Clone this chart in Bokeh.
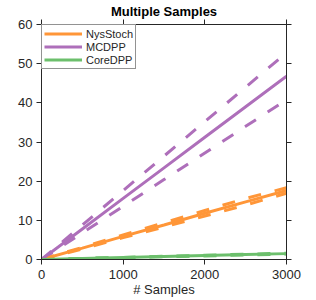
from bokeh.plotting import figure
from bokeh.models import Range1d, FixedTicker, Legend, LegendItem, LinearAxis, CustomJSTickFormatter
from bokeh.embed import file_html
from bokeh.resources import INLINE

samples = [0, 500, 1000, 1500, 2000, 2500, 3000]
nys_mean = [0, 2.9, 5.9, 8.8, 11.8, 14.7, 17.6]
nys_hi = [0, 3.1, 6.3, 9.4, 12.5, 15.6, 18.3]
nys_lo = [0, 2.7, 5.6, 8.3, 11.1, 13.9, 16.9]
mc_mean = [0, 7.8, 15.6, 23.4, 31.2, 39.0, 46.8]
mc_hi = [0, 8.8, 17.6, 26.4, 35.2, 44.0, 52.8]
mc_lo = [0, 6.8, 13.6, 20.4, 27.2, 34.0, 40.8]
core_mean = [0, 0.25, 0.5, 0.75, 1.0, 1.25, 1.5]
core_hi = [0, 0.27, 0.54, 0.81, 1.08, 1.35, 1.62]
core_lo = [0, 0.23, 0.46, 0.69, 0.92, 1.15, 1.38]
x_ticks = [0, 1000, 2000, 3000]
y_ticks = [0, 10, 20, 30, 40, 50, 60]

ORANGE = "#FF9638"
PURPLE = "#AE6FBA"
GREEN = "#6CBF6C"
FONT = "Liberation Sans"
INK = "#262626"

p = figure(width=316, height=300, output_backend="svg", toolbar_location=None,
           x_range=Range1d(0, 3000), y_range=Range1d(0, 60),
           min_border_left=41, min_border_right=30, min_border_top=0, min_border_bottom=41,
           title="Multiple Samples")
p.title.text_font = FONT
p.title.text_font_size = "13px"
p.title.text_font_style = "bold"
p.title.text_color = "black"
p.title.align = "center"
p.title.offset = 0
p.title.standoff = 2
p.grid.visible = False
p.outline_line_color = INK
p.outline_line_width = 1
p.background_fill_color = "white"
p.border_fill_color = "white"

for ax in p.xaxis + p.yaxis:
    ax.major_label_text_font = FONT
    ax.major_label_text_font_size = "13px"
    ax.major_label_text_color = INK
    ax.axis_label_text_font = FONT
    ax.axis_label_text_font_size = "13px"
    ax.axis_label_text_font_style = "normal"
    ax.axis_label_text_color = INK
    ax.major_tick_in = 0
    ax.major_tick_out = 5
    ax.minor_tick_line_color = None
    ax.axis_line_color = INK
    ax.major_tick_line_color = INK
p.xaxis.ticker = FixedTicker(ticks=x_ticks)
p.yaxis.ticker = FixedTicker(ticks=y_ticks)
p.xaxis.axis_label = "# Samples"
p.xaxis.axis_label_standoff = 0
p.xaxis.major_label_standoff = 5
p.yaxis.major_label_standoff = 4

blank = CustomJSTickFormatter(code="return '';")
top = LinearAxis(ticker=FixedTicker(ticks=x_ticks), formatter=blank,
                 major_tick_in=0, major_tick_out=5, minor_tick_line_color=None,
                 major_label_standoff=0, axis_line_color=INK, major_tick_line_color=INK)
right = LinearAxis(ticker=FixedTicker(ticks=y_ticks), formatter=blank,
                   major_tick_in=0, major_tick_out=5, minor_tick_line_color=None,
                   major_label_standoff=0, axis_line_color=INK, major_tick_line_color=INK)
p.add_layout(top, "above")
p.add_layout(right, "right")

W = 3
DASH = "13 14"
series = [(nys_mean, nys_hi, nys_lo, ORANGE, "NysStoch"),
          (mc_mean, mc_hi, mc_lo, PURPLE, "MCDPP"),
          (core_mean, core_hi, core_lo, GREEN, "CoreDPP")]
items = []
for mean, hi, lo, col, name in series:
    p.line(samples, hi, line_color=col, line_width=W, line_dash=DASH)
    p.line(samples, lo, line_color=col, line_width=W, line_dash=DASH)
for mean, hi, lo, col, name in series:
    r = p.line(samples, mean, line_color=col, line_width=W)
    items.append(LegendItem(label=name, renderers=[r]))

leg = Legend(items=items, location="top_left", margin=0, padding=2, spacing=0,
             glyph_width=38, glyph_height=13, label_height=13, label_standoff=4,
             label_text_font=FONT, label_text_font_size="11px", label_text_color=INK,
             border_line_color=INK, border_line_width=1, background_fill_alpha=1)
p.add_layout(leg, "center")

open("out.html", "w").write(file_html(p, INLINE))
